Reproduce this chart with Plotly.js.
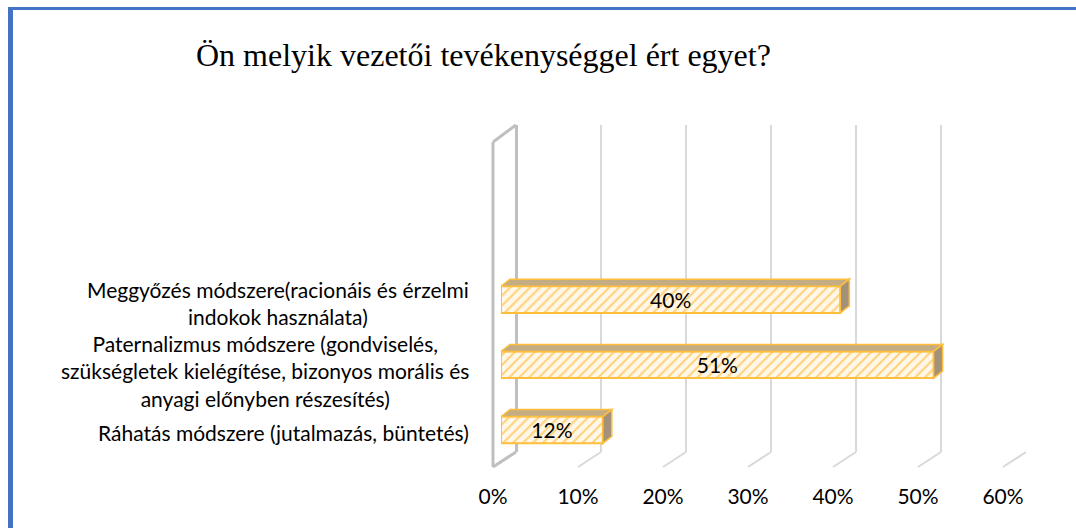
<!DOCTYPE html>
<html><head><meta charset="utf-8">
<script src="https://cdn.plot.ly/plotly-3.0.1.min.js"></script>
<style>html,body{margin:0;padding:0;background:#fff}</style>
</head><body><div id="chart" style="width:1076px;height:528px"></div>
<script>
const categories = [
  "Ráhatás módszere (jutalmazás, büntetés)",
  "Paternalizmus módszere (gondviselés,<br>szükségletek kielégítése, bizonyos morális és<br>anyagi előnyben részesítés)",
  "Meggyőzés módszere(racionáis és érzelmi<br>indokok használata)"
];
const values = [0.12, 0.51, 0.40];
const tickValues = [0, 0.1, 0.2, 0.3, 0.4, 0.5, 0.6];
const tickLabels = ["0%", "10%", "20%", "30%", "40%", "50%", "60%"];
const chartTitle = "Ön melyik vezetői tevékenységgel ért egyet?";

const W = 1076, H = 528;
const px = x => x / W, py = y => 1 - y / H;

// geometry (pixels)
const frontX0 = 501, frontX1 = 1010;      // front plane of bars, 0..60%
const backX0 = 516, backX1 = 1026;        // back wall gridlines
const backTop = 125, backBot = 452;
const catBot = 462.6, catTop = 266.9;     // y range [-0.5, 2.5]
const xmax = 0.6;
const pxPerX = (frontX1 - frontX0) / xmax;
const pxPerY = (catBot - catTop) / 3;
const barW = 0.41;
const depthX = 9, depthY = 7;
const dx = depthX / pxPerX, dy = depthY / pxPerY;
const wallDX = -23, wallDY = -15;
const labelShift = [-3, -6, -3];

const yPos = categories.map((c, i) => i);

const traces = [{
  type: 'bar', orientation: 'h',
  x: values, y: yPos, width: barW,
  xaxis: 'x2', yaxis: 'y2',
  marker: {
    color: '#FFF7E6',
    line: {color: '#FFBE3C', width: 2},
    pattern: {shape: '/', fgcolor: '#FFD27A', bgcolor: '#FFF8EA', size: 7, solidity: 0.3, fillmode: 'replace'}
  },
  texttemplate: '%{x:.0%}', textposition: 'inside', insidetextanchor: 'middle',
  textfont: {family: 'Lato', size: 21, color: '#000'},
  constraintext: 'none',
  hoverinfo: 'skip', cliponaxis: false
}];

const shapes = [];
// blue frame
shapes.push({type: 'line', xref: 'paper', yref: 'paper', x0: px(8), x1: 1, y0: py(8.5), y1: py(8.5), line: {color: '#4472C4', width: 3}, layer: 'above'});
shapes.push({type: 'line', xref: 'paper', yref: 'paper', x0: px(10.5), x1: px(10.5), y0: py(7), y1: 0, line: {color: '#4472C4', width: 5}, layer: 'above'});

// floor diagonals for gridlines (back axis = x)
tickValues.forEach(v => {
  if (v === 0) return;
  shapes.push({type: 'line', xref: 'x', xsizemode: 'pixel', xanchor: v, x0: 0, x1: wallDX,
    yref: 'paper', ysizemode: 'pixel', yanchor: py(backBot), y0: 0, y1: wallDY,
    line: {color: '#D9D9D9', width: 2}, layer: 'below'});
});
// side wall at 0%: bottom diagonal, front vertical, top diagonal
const wallH = backBot - backTop;
const wallPts = [[0, 0, wallDX, wallDY], [wallDX, wallDY, wallDX, wallH - 17], [0, wallH, wallDX, wallH - 17]];
wallPts.forEach(p => {
  shapes.push({type: 'line', xref: 'paper', xsizemode: 'pixel', xanchor: px(backX0), x0: p[0], x1: p[2],
    yref: 'paper', ysizemode: 'pixel', yanchor: py(backBot), y0: p[1], y1: p[3],
    line: {color: '#BFBFBF', width: 3}, layer: 'below'});
});

// 3D faces of bars
values.forEach((v, i) => {
  const t = yPos[i] + barW / 2, b = yPos[i] - barW / 2;
  shapes.push({type: 'path', xref: 'x2', yref: 'y2',
    path: `M0,${t} L${v},${t} L${v + dx},${t + dy} L${dx},${t + dy} Z`,
    fillcolor: '#C4AD82', line: {color: '#FFBE3C', width: 1.5}, layer: 'above'});
  shapes.push({type: 'path', xref: 'x2', yref: 'y2',
    path: `M${v},${b} L${v},${t} L${v + dx},${t + dy} L${v + dx},${b + dy} Z`,
    fillcolor: '#A3917A', line: {color: '#FFBE3C', width: 1.5}, layer: 'above'});
});

const annotations = categories.map((c, i) => ({
  xref: 'paper', yref: 'y2', x: px(471), y: yPos[i], xanchor: 'right', yanchor: 'middle',
  align: 'center', text: c, showarrow: false, yshift: labelShift[i],
  font: {family: 'Lato', size: 21, color: '#000'}
}));
annotations.push({
  xref: 'paper', yref: 'paper', x: px(483), y: py(55), xanchor: 'center', yanchor: 'middle',
  text: chartTitle, showarrow: false,
  font: {family: 'Liberation Serif', size: 32, color: '#000'}
});

const layout = {
  width: W, height: H, autosize: false,
  margin: {l: 0, r: 0, t: 0, b: 0},
  paper_bgcolor: '#fff', plot_bgcolor: 'rgba(0,0,0,0)',
  showlegend: false,
  // back plane (gridlines) + tick labels shifted to the front floor
  xaxis: {domain: [px(backX0), px(backX1)], range: [0, xmax], anchor: 'y',
    showgrid: true, gridcolor: '#D9D9D9', gridwidth: 2, tickvals: tickValues, ticktext: tickLabels,
    showticklabels: true, ticklabelshift: -23, ticklabelstandoff: 30,
    tickfont: {family: 'Lato', size: 21, color: '#000'},
    zeroline: true, zerolinecolor: '#BFBFBF', zerolinewidth: 3, showline: false, ticks: '', fixedrange: true},
  yaxis: {domain: [py(backBot), py(backTop)], range: [0, 1], anchor: 'x', visible: false, showgrid: false, zeroline: false, fixedrange: true},
  // bars (front plane)
  xaxis2: {domain: [px(frontX0), px(frontX1)], range: [0, xmax], visible: false, anchor: 'y2', fixedrange: true},
  yaxis2: {domain: [py(catBot), py(catTop)], range: [-0.5, 2.5], visible: false, anchor: 'x2', fixedrange: true},
  shapes: shapes,
  annotations: annotations
};

Plotly.newPlot('chart', traces, layout, {staticPlot: true, displayModeBar: false});
</script></body></html>
